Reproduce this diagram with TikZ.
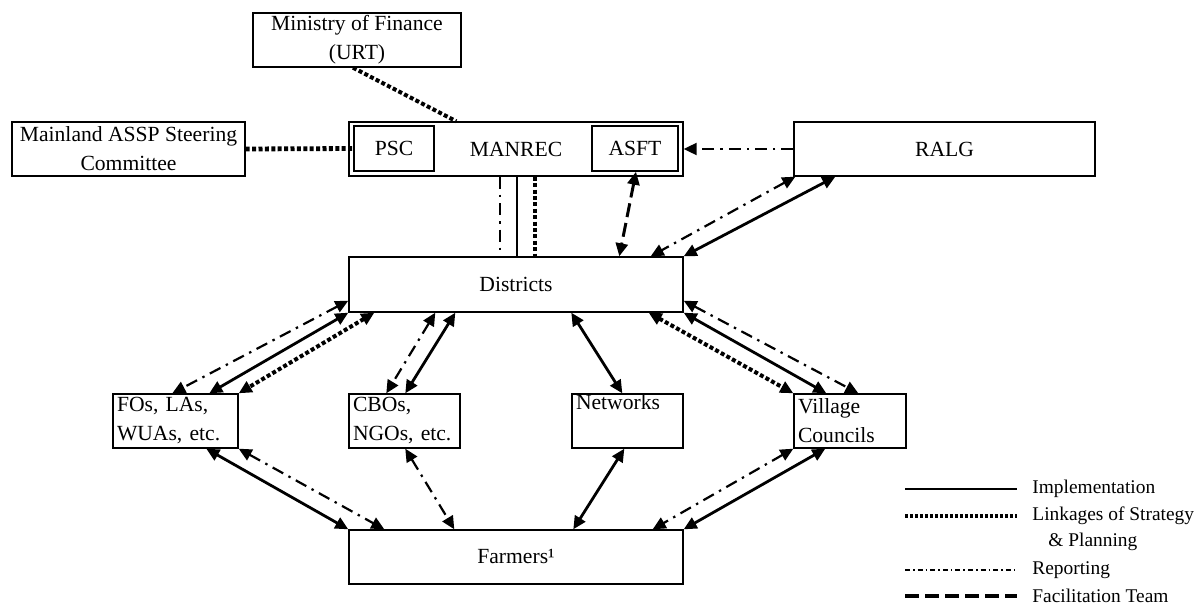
\documentclass[tikz,border=0pt]{standalone}
\usepackage{fontspec}
\setmainfont{Liberation Serif}
\usetikzlibrary{arrows.meta,calc}

\begin{document}
\begin{tikzpicture}[x=0.5pt,y=-0.5pt,
    >={Triangle[length=6.5pt,width=6pt]},
    box/.style={draw,line width=0.7pt,inner sep=0pt,align=center,
        font=\fontsize{10.8}{14.5}\selectfont},
    lbox/.style={draw,line width=0.7pt,text width=#1,minimum height=27pt,
        inner xsep=2pt,inner ysep=0pt,align=left,font=\fontsize{10.8}{14.5}\selectfont},
    impl/.style={line width=1.4pt},
    link/.style={line width=2pt,dash pattern=on 2pt off 1.2pt},
    report/.style={line width=1.1pt,dash pattern=on 6pt off 3pt on 1.2pt off 3pt},
    facil/.style={line width=1.5pt,dash pattern=on 7pt off 3pt},
    keytext/.style={anchor=west,inner sep=0pt,font=\fontsize{9.7}{12}\selectfont}]
    \useasboundingbox (0,0) rectangle (1199,605);

    % top level
    \node[box,minimum width=104pt,minimum height=27pt] (mof) at (357,40) {Ministry of Finance\\(URT)};
    \node[box,minimum width=116.5pt,minimum height=27pt] (steer) at (128.5,149) {Mainland ASSP Steering\\Committee};
    \node[box,minimum width=167pt,minimum height=27pt] (manrec) at (516,149) {MANREC};
    \node[box,minimum width=40pt,minimum height=22.5pt] (psc) at (394,148.5) {PSC};
    \node[box,minimum width=43pt,minimum height=22.5pt] (asft) at (635,148.5) {ASFT};
    \node[box,minimum width=150.5pt,minimum height=27pt] (ralg) at (944.5,149) {RALG};

    % districts and below
    \node[box,minimum width=167pt,minimum height=27.5pt] (dist) at (516,284.5) {Districts};
    \node[lbox=58.5pt] (fos) at (175.5,421) {FOs, LAs,\\WUAs, etc.};
    \node[lbox=51.5pt] (cbos) at (404.5,421) {CBOs,\\NGOs, etc.};
    \node[lbox=51.5pt] (netw) at (627.5,421) {Networks\\\strut};
    \node[lbox=52pt] (vill) at (850,421) {Village\\Councils};
    \node[box,minimum width=167pt,minimum height=27pt] (farm) at (516,557) {Farmers¹};

    % links at the top
    \draw[link] ($(mof.south)+(-4,0)$) -- ($(manrec.north west)+(108,0)$);
    \draw[link,line width=2.4pt] (steer.east) -- (psc.west);
    \draw[report,->] (ralg.west) -- (manrec.east);
    \draw[report,line width=0.9pt] ($(manrec.south)+(-16,0)$) -- ($(dist.north)+(-16,0)$);
    \draw[line width=0.7pt] ($(manrec.south)+(1,0)$) -- ($(dist.north)+(1,0)$);
    \draw[link,line width=1.9pt] ($(manrec.south)+(19,0)$) -- ($(dist.north)+(19,0)$);
    \draw[facil,<->] ($(asft.south)+(1,0)$) -- ($(dist.north west)+(271,0)$);
    \draw[report,<->] ($(ralg.south west)+(2,0)$) -- ($(dist.north east)+(-33,0)$);
    \draw[impl,<->] ($(ralg.south west)+(42,0)$) -- (dist.north east);

    % districts to the groups
    \draw[report,<->] ($(dist.south west)+(0,-12)$) -- ($(fos.north west)+(60,0)$);
    \draw[impl,<->] (dist.south west) -- ($(fos.north west)+(97,0)$);
    \draw[link,<->] ($(dist.south west)+(26,0)$) -- (fos.north east);
    \draw[report,<->] ($(dist.south west)+(87,0)$) -- ($(cbos.north west)+(38,0)$);
    \draw[impl,<->] ($(dist.south west)+(107,0)$) -- ($(cbos.north west)+(57,0)$);
    \draw[impl,<->] ($(dist.south west)+(223,0)$) -- ($(netw.north west)+(51,0)$);
    \draw[report,<->] ($(dist.south east)+(0,-12)$) -- ($(vill.north west)+(65,0)$);
    \draw[impl,<->] (dist.south east) -- ($(vill.north west)+(33,0)$);
    \draw[link,<->] ($(dist.south east)+(-35,0)$) -- (vill.north west);

    % groups to farmers
    \draw[impl,<->] ($(fos.south west)+(94,0)$) -- (farm.north west);
    \draw[report,<->] (fos.south east) -- ($(farm.north west)+(36,0)$);
    \draw[report,<->] ($(cbos.south west)+(57,0)$) -- ($(farm.north west)+(106,0)$);
    \draw[impl,<->] ($(netw.south west)+(53,0)$) -- ($(farm.north west)+(225,0)$);
    \draw[report,<->] (vill.south west) -- ($(farm.north east)+(-31,0)$);
    \draw[impl,<->] ($(vill.south west)+(32,0)$) -- (farm.north east);

    % legend
    \node[keytext] (kimpl) at (1032,489) {Implementation};
    \node[keytext] (klink) at (1032,516) {Linkages of Strategy};
    \node[keytext] (kplan) at (1048,542) {\& Planning};
    \node[keytext] (krep) at (1032,570) {Reporting};
    \node[keytext] (kfac) at (1032,596) {Facilitation Team};
    \coordinate (a1) at (905,489); \coordinate (b1) at (1017,489);
    \coordinate (a2) at (905,516); \coordinate (b2) at (1017,516);
    \coordinate (a3) at (905,570); \coordinate (b3) at (1017,570);
    \coordinate (a4) at (905,596); \coordinate (b4) at (1017,596);
    \draw[line width=1pt] (a1) -- (b1);
    \draw[line width=1.8pt,dash pattern=on 1.5pt off 1pt] (a2) -- (b2);
    \draw[line width=0.7pt,dash pattern=on 2.5pt off 1.5pt on 0.8pt off 1.5pt] (a3) -- (b3);
    \draw[line width=1.8pt,dash pattern=on 7pt off 3pt] (a4) -- (b4);
\end{tikzpicture}
\end{document}
